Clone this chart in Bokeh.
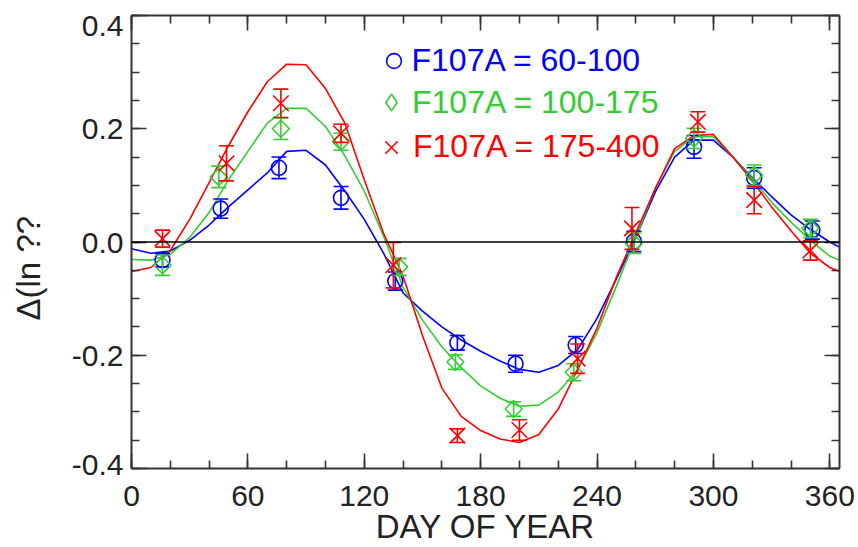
import numpy as np
from bokeh.plotting import figure
from bokeh.models import (Range1d, LinearAxis, Span, Legend, LegendItem,
                          FixedTicker, PrintfTickFormatter, ColumnDataSource)
from bokeh.embed import file_html
from bokeh.resources import INLINE

# ---------------- data ----------------
series_names = ["F107A = 60-100", "F107A = 100-175", "F107A = 175-400"]

blue_day = [16, 46, 76, 108, 136, 168, 198, 229, 259, 290, 321, 351]
blue_val = [-0.032, 0.059, 0.131, 0.078, -0.069, -0.178, -0.215, -0.182, 0.001, 0.168, 0.113, 0.021]
blue_err = [0.012, 0.017, 0.019, 0.020, 0.016, 0.013, 0.015, 0.015, 0.018, 0.020, 0.018, 0.016]

green_day = [16, 45, 77, 108, 138, 167, 197, 228, 259, 290, 321, 350]
green_val = [-0.041, 0.115, 0.200, 0.177, -0.044, -0.212, -0.295, -0.230, -0.002, 0.183, 0.118, 0.024]
green_err = [0.018, 0.019, 0.019, 0.015, 0.015, 0.013, 0.013, 0.015, 0.018, 0.018, 0.018, 0.016]

red_day = [16, 49, 77, 108, 135, 168, 200, 230, 258, 292, 321, 350]
red_val = [0.006, 0.139, 0.245, 0.192, -0.041, -0.342, -0.332, -0.206, 0.024, 0.212, 0.074, -0.015]
red_err = [0.015, 0.031, 0.025, 0.016, 0.040, 0.012, 0.018, 0.026, 0.037, 0.018, 0.024, 0.017]

fit_day = [0, 10, 20, 30, 40, 50, 60, 70, 80, 90, 100, 110, 120, 130, 140, 150, 160, 170, 180,
           190, 200, 210, 220, 230, 240, 250, 260, 270, 280, 290, 300, 310, 320, 330, 340, 350, 360, 365]
blue_fit = [-0.012, -0.020, -0.016, 0.003, 0.030, 0.062, 0.092, 0.122, 0.160, 0.162, 0.136, 0.090,
            0.040, -0.020, -0.090, -0.122, -0.150, -0.173, -0.193, -0.210, -0.225, -0.230, -0.218,
            -0.190, -0.135, -0.065, 0.008, 0.088, 0.150, 0.180, 0.180, 0.150, 0.114, 0.080, 0.048,
            0.022, 0.000, -0.009]
green_fit = [-0.031, -0.032, -0.022, 0.008, 0.052, 0.110, 0.160, 0.210, 0.236, 0.236, 0.204, 0.152,
             0.090, 0.010, -0.080, -0.138, -0.185, -0.222, -0.254, -0.276, -0.290, -0.288, -0.265,
             -0.225, -0.160, -0.078, 0.008, 0.095, 0.160, 0.186, 0.186, 0.150, 0.112, 0.070, 0.035,
             0.003, -0.025, -0.032]
red_fit = [-0.052, -0.045, -0.015, 0.040, 0.105, 0.170, 0.230, 0.283, 0.314, 0.313, 0.271, 0.210,
           0.110, 0.015, -0.060, -0.165, -0.258, -0.308, -0.333, -0.348, -0.354, -0.340, -0.295,
           -0.225, -0.152, -0.062, 0.016, 0.094, 0.165, 0.188, 0.190, 0.150, 0.108, 0.062, 0.020,
           -0.020, -0.045, -0.052]

x_ticks = [0, 60, 120, 180, 240, 300, 360]
y_ticks = [-0.4, -0.2, 0.0, 0.2, 0.4]
x_title = "DAY OF YEAR"
y_title = "Δ(ln ??"

colors = ["#0000ff", "#33cc33", "#ff0000"]

W, H = 858, 547
FL, FR, FT, FB = 131, 839, 15, 468   # frame edges in page pixels
FONT = "Liberation Sans"

p = figure(width=W, height=H, output_backend="svg", toolbar_location=None,
           x_range=Range1d(0, 365), y_range=Range1d(-0.4, 0.4),
           x_axis_location=None, y_axis_location=None,
           min_border_left=FL, min_border_right=W - FR, min_border_top=FT,
           min_border_bottom=H - FB)
p.grid.visible = False
p.outline_line_color = None
p.background_fill_color = "white"
p.border_fill_color = "white"

xt = FixedTicker(ticks=x_ticks, minor_ticks=list(np.arange(0, 366, 20)))
yt = FixedTicker(ticks=y_ticks, minor_ticks=list(np.round(np.arange(-0.4, 0.401, 0.05), 3)))

AX = "#333333"

def style_axis(ax, show_labels, ticks):
    ax.axis_line_color = AX
    ax.axis_line_width = 2
    ax.major_tick_line_color = AX
    ax.major_tick_line_width = 1.6
    ax.minor_tick_line_color = AX
    ax.minor_tick_line_width = 1.6
    ax.major_tick_in = 15
    ax.major_tick_out = 0
    ax.minor_tick_in = 8
    ax.minor_tick_out = 0
    if show_labels:
        ax.major_label_text_font = FONT
        ax.major_label_text_font_size = "30px"
        ax.major_label_text_color = "#222222"
    else:
        ax.major_label_overrides = {t: "" for t in ticks}
        ax.major_label_text_font_size = "1px"
        ax.major_label_text_color = None
        ax.major_label_standoff = 0

xb = LinearAxis(ticker=xt, axis_label=x_title)
style_axis(xb, True, x_ticks)
xb.major_label_standoff = 17
xb.axis_label_text_font = FONT
xb.axis_label_text_font_size = "33px"
xb.axis_label_text_font_style = "normal"
xb.axis_label_text_color = "#222222"
xb.axis_label_standoff = -1
p.add_layout(xb, "below")

xa = LinearAxis(ticker=xt)
style_axis(xa, False, x_ticks)
p.add_layout(xa, "above")

# the original nudges the end labels inwards: an empty line does the same here
yl = LinearAxis(ticker=yt, formatter=PrintfTickFormatter(format="%.1f"),
                axis_label=y_title + "\u00a0\u00a0\u00a0\u00a0\u00a0\u2009")
style_axis(yl, True, y_ticks)
yl.major_label_overrides = {0.4: "\n0.4", -0.4: "-0.4\n"}
yl.major_label_text_line_height = 0.25
yl.major_label_standoff = 8
yl.axis_label_text_font = FONT
yl.axis_label_text_font_size = "33px"
yl.axis_label_text_font_style = "normal"
yl.axis_label_text_color = "#222222"
yl.axis_label_standoff = 22
p.add_layout(yl, "left")

yr = LinearAxis(ticker=yt)
style_axis(yr, False, y_ticks)
p.add_layout(yr, "right")

days = [blue_day, green_day, red_day]
vals = [blue_val, green_val, red_val]
errs = [blue_err, green_err, red_err]
fits = [blue_fit, green_fit, red_fit]

for f, c in zip(fits, colors):
    p.line(fit_day, f, line_color=c, line_width=1.6)

legend_rs = []
for i, (d, v, e, c) in enumerate(zip(days, vals, errs, colors)):
    v = np.array(v); e = np.array(e)
    src = ColumnDataSource(dict(x=d, y=v, lo=v - e, hi=v + e))
    p.segment(x0="x", y0="lo", x1="x", y1="hi", source=src, line_color=c, line_width=1.6)
    p.scatter(x="x", y="lo", source=src, marker="dash", size=15, line_color=c, line_width=1.6)
    p.scatter(x="x", y="hi", source=src, marker="dash", size=15, line_color=c, line_width=1.6)
    if i == 0:
        r = p.scatter(x="x", y="y", source=src, marker="circle", size=15,
                      line_color=c, fill_color=None, line_width=1.6)
    elif i == 1:
        p.scatter(x="x", y="y", source=src, marker="square", angle=np.pi / 4, size=12,
                  line_color=c, fill_color=None, line_width=1.6)
        # legend stand-in (legend glyphs are never drawn rotated); hidden on the plot
        r = p.scatter(x="x", y="y", source=src, marker="diamond", size=12,
                      line_color=c, fill_color=None, line_width=1.6, visible=False)
    else:
        r = p.scatter(x="x", y="y", source=src, marker="x", size=22,
                      line_color=c, line_width=1.6)
    legend_rs.append(r)

# legends (one per series so each label keeps its colour)
row_center = [60, 102, 146.5]
glyph_box = [37, 42, 44]
marker_x = [393, 391, 391]
for r, name, c, yc, gb, mx in zip(legend_rs, series_names, colors, row_center, glyph_box, marker_x):
    vy = FB - (yc + gb / 2)
    vx = (mx - FL) - gb / 2
    lg = Legend(items=[LegendItem(label=name, renderers=[r])], location=(vx, vy),
                glyph_width=gb, glyph_height=gb, label_height=gb, label_standoff=0,
                label_text_font=FONT, label_text_font_size="32px", label_text_color=c,
                padding=0, margin=0, spacing=0, border_line_color=None,
                background_fill_alpha=0, inactive_fill_alpha=0)
    p.add_layout(lg)

p.add_layout(Span(location=0, dimension="width", line_color="black", line_width=1.5))

open("out.html", "w").write(file_html(p, INLINE))
